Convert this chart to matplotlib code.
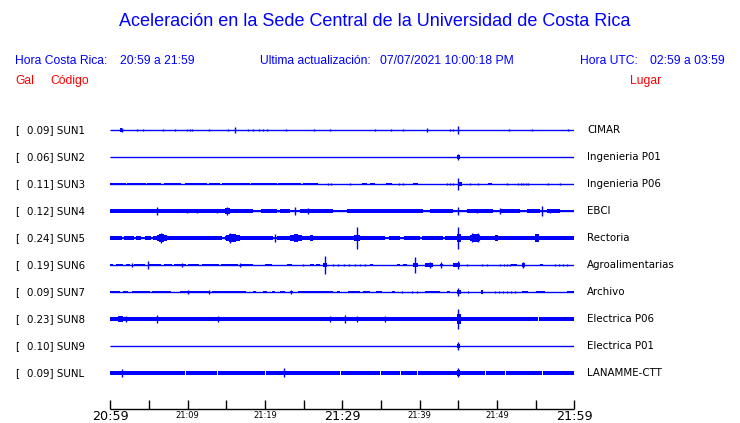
import matplotlib
matplotlib.use("Agg")
import matplotlib.pyplot as plt

# ---------------- data ----------------
codes = ["SUN1", "SUN2", "SUN3", "SUN4", "SUN5", "SUN6", "SUN7", "SUN8", "SUN9", "SUNL"]
peak_gal = [0.09, 0.06, 0.11, 0.12, 0.24, 0.19, 0.09, 0.23, 0.10, 0.09]
places = ["CIMAR", "Ingenieria P01", "Ingenieria P06", "EBCI", "Rectoria",
          "Agroalimentarias", "Archivo", "Electrica P06", "Electrica P01", "LANAMME-CTT"]
base_gal = [0, 0, 0, 0.022, 0.022, 0, 0, 0.055, 0, 0.045]

tick_minutes = list(range(0, 61, 5))
label_minutes = [0, 10, 20, 30, 40, 50, 60]
tick_labels = ["20:59", "21:09", "21:19", "21:29", "21:39", "21:49", "21:59"]
big_labels = ["20:59", "21:29", "21:59"]

# envelope bursts: (start minute, end minute, half-amplitude Gal)
sun1_bursts = [(1.25, 1.55, 0.04), (44.9, 45.15, 0.06)]
sun1_spikes = [(1.5, 0.05), (3.45, 0.03), (4.2, 0.03), (6.85, 0.022), (8.4, 0.033), (9.9, 0.033),
               (10.3, 0.033), (10.55, 0.033), (12.8, 0.022), (15.2, 0.033), (16.1, 0.06),
               (17.85, 0.022), (18.5, 0.022), (19.2, 0.033), (19.8, 0.022), (20.2, 0.022),
               (22.7, 0.022), (26.4, 0.033), (28.4, 0.033), (34.2, 0.022), (36.3, 0.033),
               (37.85, 0.033), (41.0, 0.045), (43.9, 0.033), (44.3, 0.033), (45.0, 0.09),
               (51.6, 0.022), (54.5, 0.033), (59.2, 0.022)]

sun2_bursts = [(44.85, 45.2, 0.04)]
sun2_spikes = [(45.0, 0.06)]

sun3_bursts = [(0, 2.0, 0.033), (2.2, 4.6, 0.033), (4.8, 6.5, 0.033), (6.9, 9.1, 0.033), (9.7, 12.5, 0.033),
               (12.7, 14.2, 0.033), (14.4, 18.0, 0.033), (18.2, 21.5, 0.033), (21.7, 24.6, 0.033),
               (24.9, 26.8, 0.033), (32.6, 33.2, 0.03), (33.6, 34.2, 0.03), (35.6, 36.4, 0.03),
               (39.1, 39.8, 0.03), (44.9, 45.5, 0.05), (48.8, 49.4, 0.03)]
sun3_spikes = [(28.1, 0.022), (28.6, 0.022), (31.0, 0.022), (37.3, 0.022), (37.9, 0.022), (43.5, 0.022),
               (43.9, 0.022), (44.3, 0.022), (45.0, 0.13), (46.5, 0.022), (47.6, 0.022), (51.3, 0.022),
               (52.7, 0.022), (53.1, 0.022), (53.4, 0.022), (53.7, 0.022), (54.0, 0.022),
               (56.6, 0.022), (58.1, 0.022)]

sun4_bursts = [(0, 18.5, 0.045), (19.5, 21.5, 0.045), (22.0, 23.2, 0.045), (24.5, 28.8, 0.045),
               (30.6, 40.4, 0.045), (41.3, 44.3, 0.045), (46.1, 49.5, 0.045), (50.4, 53.0, 0.045),
               (53.9, 55.6, 0.045), (56.5, 58.1, 0.045), (14.8, 15.5, 0.06)]
sun4_spikes = [(6.0, 0.089), (9.9, 0.055), (11.2, 0.045), (13.8, 0.045), (15.1, 0.078), (21.7, 0.033),
               (23.9, 0.089), (25.6, 0.067), (45.0, 0.089), (47.4, 0.045), (50.4, 0.067),
               (55.8, 0.12), (56.8, 0.045)]

sun5_bursts = [(0, 1.5, 0.05), (1.8, 3.0, 0.05), (3.3, 4.0, 0.05), (4.5, 5.2, 0.05), (5.5, 14.5, 0.05),
               (14.8, 21.0, 0.05), (21.5, 35.5, 0.05), (36.0, 37.5, 0.05), (38.0, 40.0, 0.05),
               (40.3, 43.0, 0.05), (43.3, 60.0, 0.055), (6.0, 7.3, 0.065), (6.3, 6.9, 0.085),
               (15.0, 16.8, 0.065), (15.4, 16.3, 0.085), (23.3, 24.8, 0.065), (23.7, 24.3, 0.08),
               (25.8, 26.2, 0.065), (31.5, 32.3, 0.07), (44.8, 45.4, 0.09), (46.5, 47.8, 0.065),
               (46.8, 47.5, 0.08), (49.7, 50.1, 0.065), (54.9, 55.4, 0.08)]
sun5_spikes = [(6.5, 0.12), (15.5, 0.11), (21.3, 0.09), (31.9, 0.244), (45.0, 0.244),
               (46.8, 0.1), (47.5, 0.1)]

sun6_bursts = [(0, 0.4, 0.033), (0.8, 1.6, 0.033), (2.0, 2.6, 0.033), (3.0, 4.5, 0.033), (4.9, 6.5, 0.033),
               (7.0, 8.0, 0.033), (8.3, 9.8, 0.033), (10.0, 11.5, 0.033), (11.8, 14.0, 0.033),
               (14.3, 16.5, 0.033), (16.8, 18.4, 0.033), (20.0, 20.9, 0.033), (22.9, 23.5, 0.033),
               (25.8, 26.3, 0.033), (26.6, 27.1, 0.033), (27.5, 28.0, 0.04), (33.6, 34.0, 0.033),
               (37.1, 37.5, 0.033), (37.8, 38.4, 0.033), (39.2, 39.8, 0.04), (40.7, 41.7, 0.045),
               (42.6, 43.0, 0.033), (44.3, 45.2, 0.05), (51.8, 52.6, 0.033), (53.2, 53.6, 0.045),
               (55.6, 56.0, 0.033)]
sun6_spikes = [(2.8, 0.055), (4.9, 0.089), (9.3, 0.045), (16.8, 0.045), (24.9, 0.022), (27.8, 0.2),
               (28.8, 0.022), (29.5, 0.022), (30.2, 0.022), (30.9, 0.022), (31.6, 0.022), (32.3, 0.022),
               (33.0, 0.022), (39.4, 0.178), (41.3, 0.06), (42.8, 0.067), (45.0, 0.089), (46.1, 0.022),
               (48.1, 0.022), (48.7, 0.022), (50.4, 0.022), (50.9, 0.022), (51.3, 0.022), (51.7, 0.022),
               (53.4, 0.067), (57.5, 0.022), (58.0, 0.022), (58.5, 0.022), (59.0, 0.022)]

sun7_bursts = [(0, 1.25, 0.025), (1.7, 2.3, 0.025), (2.75, 5.1, 0.025), (5.35, 7.9, 0.025),
               (9.0, 12.9, 0.03), (13.1, 17.6, 0.025), (18.5, 18.9, 0.025), (19.8, 20.2, 0.025),
               (20.9, 21.3, 0.025), (21.9, 22.6, 0.025), (23.2, 23.6, 0.025), (24.3, 28.8, 0.025),
               (29.3, 29.7, 0.025), (30.7, 32.3, 0.025), (32.7, 33.6, 0.025), (34.4, 35.1, 0.025),
               (36.4, 36.8, 0.025), (40.7, 42.6, 0.025), (43.5, 43.9, 0.025), (44.8, 45.3, 0.05),
               (47.9, 48.2, 0.05), (53.2, 54.05, 0.025), (55.1, 56.2, 0.025), (59.0, 59.9, 0.025)]
sun7_spikes = [(10.1, 0.045), (12.7, 0.045), (23.4, 0.045), (37.7, 0.022), (39.0, 0.022), (39.6, 0.022),
               (45.0, 0.078), (46.3, 0.033), (49.8, 0.022), (50.3, 0.022), (50.8, 0.022), (51.3, 0.022),
               (51.8, 0.022), (52.3, 0.022)]

sun8_bursts = [(1.0, 1.6, 0.07), (44.85, 45.3, 0.12)]
sun8_spikes = [(2.0, 0.067), (6.0, 0.089), (13.9, 0.06), (28.4, 0.06), (30.35, 0.078), (31.9, 0.06),
               (35.5, 0.067), (45.0, 0.233)]
sun8_gaps = [55.3]

sun9_bursts = [(44.85, 45.2, 0.045)]
sun9_spikes = [(45.0, 0.08)]

sunl_bursts = [(44.85, 45.2, 0.07)]
sunl_spikes = [(1.5, 0.078), (22.5, 0.1), (45.0, 0.1)]
sunl_gaps = [9.7, 13.8, 20.0, 29.7, 34.9, 37.45, 39.6, 48.45, 51.0, 55.8]

all_bursts = [sun1_bursts, sun2_bursts, sun3_bursts, sun4_bursts, sun5_bursts,
              sun6_bursts, sun7_bursts, sun8_bursts, sun9_bursts, sunl_bursts]
all_spikes = [sun1_spikes, sun2_spikes, sun3_spikes, sun4_spikes, sun5_spikes,
              sun6_spikes, sun7_spikes, sun8_spikes, sun9_spikes, sunl_spikes]
all_gaps = [[], [], [], [], [], [], [], sun8_gaps, [], sunl_gaps]

# ---------------- layout ----------------
W, H = 740, 423
BLUE = "#0000ff"
RED = "#ff0000"
PX_PER_GAL = 45.0
ROW0, ROW_STEP = 130, 27
AX_LEFT, AX_RIGHT = 110.3, 574.3

fig = plt.figure(figsize=(W / 100, H / 100), dpi=100)
fig.patch.set_facecolor("white")
ax = fig.add_axes([AX_LEFT / W, 0, (AX_RIGHT - AX_LEFT) / W, 1])
ax.set_xlim(0, 60)
ax.set_ylim(H, 0)
ax.axis("off")


def ftext(x, y, s, **kw):
    fig.text(x / W, 1 - y / H, s, va="center", **kw)


HEAD = dict(family=["Liberation Sans", "DejaVu Sans"])
ftext(375, 22, "Aceleración en la Sede Central de la Universidad de Costa Rica",
      ha="center", fontsize=13, color=BLUE, **HEAD)
ftext(15, 61, "Hora Costa Rica:", fontsize=8.7, color=BLUE, **HEAD)
ftext(120, 61, "20:59 a 21:59", fontsize=8.7, color=BLUE, **HEAD)
ftext(260, 61, "Ultima actualización:", fontsize=8.7, color=BLUE, **HEAD)
ftext(380, 61, "07/07/2021 10:00:18 PM", fontsize=8.7, color=BLUE, **HEAD)
ftext(580, 61, "Hora UTC:", fontsize=8.7, color=BLUE, **HEAD)
ftext(650, 61, "02:59 a 03:59", fontsize=8.7, color=BLUE, **HEAD)
ftext(15, 81, "Gal", fontsize=8.7, color=RED, **HEAD)
ftext(50, 81, "Código", fontsize=8.7, color=RED, **HEAD)
ftext(630, 81, "Lugar", fontsize=8.7, color=RED, **HEAD)

LAB = dict(family=["DejaVu Sans"], fontsize=7.4, color="black")
for i, code in enumerate(codes):
    y = ROW0 + ROW_STEP * i
    ftext(15, y, "[", **LAB)
    ftext(27.3, y, f"{peak_gal[i]:.2f}] {code}", **LAB)
    ftext(587, y, places[i], **LAB)

    ax.plot([0, 60], [y, y], color=BLUE, lw=1.0, solid_capstyle="butt")
    if base_gal[i] > 0:
        a = base_gal[i] * PX_PER_GAL
        ax.broken_barh([(0, 60)], (y - a, 2 * a), color=BLUE, lw=0)
    for s, e, g in all_bursts[i]:
        a = g * PX_PER_GAL
        ax.broken_barh([(s, e - s)], (y - a, 2 * a), color=BLUE, lw=0)
    for m, g in all_spikes[i]:
        a = g * PX_PER_GAL
        ax.vlines(m, y - a, y + a, color=BLUE, lw=1.0)
    for m in all_gaps[i]:
        a = (base_gal[i] * PX_PER_GAL) + 0.5
        ax.vlines(m, y - a, y + a, color="white", lw=0.7)

# time axis
AXIS_Y, TICK_TOP = 409, 400
ax.plot([0, 60], [AXIS_Y, AXIS_Y], color="black", lw=1.0, solid_capstyle="butt", clip_on=False)
ax.vlines(tick_minutes, TICK_TOP, AXIS_Y, color="black", lw=1.0, clip_on=False)
for m, lab in zip(label_minutes, tick_labels):
    if lab in big_labels:
        ax.text(m, 417, lab, ha="center", va="center", fontsize=9.2,
                family=["DejaVu Sans"], color="black", clip_on=False)
    else:
        ax.text(m, 416, lab, ha="center", va="center", fontsize=6,
                family=["DejaVu Sans"], color="black", clip_on=False)

fig.savefig("out.png", dpi=100, facecolor="white")
